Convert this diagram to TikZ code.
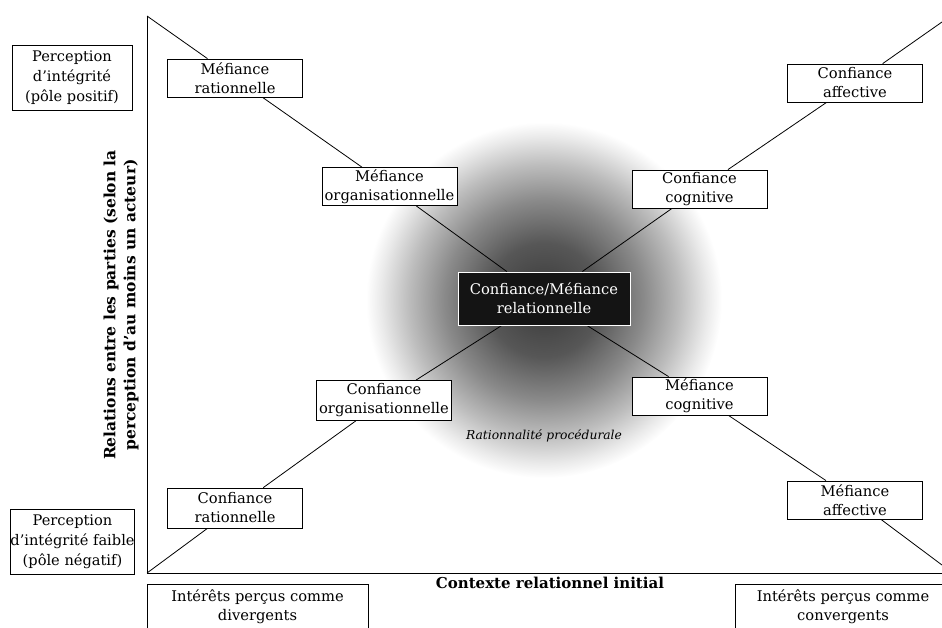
\documentclass[tikz,border=0pt]{standalone}
\usepackage{fontspec}
\setmainfont{DejaVu Serif}
\usetikzlibrary{backgrounds}
\pgfdeclareradialshading{glow}{\pgfpointorigin}{color(0bp)=(black!78); color(8bp)=(black!66); color(14bp)=(black!46); color(19bp)=(black!26); color(23bp)=(black!8); color(25bp)=(white); color(50bp)=(white)}
\begin{document}
\begin{tikzpicture}[x=1pt,y=-1pt,
  txt/.style={font=\fontsize{14.7}{19}\selectfont},
  box/.style={txt, draw=black, fill=white, line width=0.8pt, minimum width=135pt, minimum height=38pt, inner sep=0pt, align=center},
  polebox/.style={box, minimum width=120pt, minimum height=65pt, font=\fontsize{14.6}{20}\selectfont},
  ctrbox/.style={box, fill=black!92, draw=white, line width=1pt, text=white, minimum width=172pt, minimum height=53pt},
  contextbox/.style={box, anchor=north, inner ysep=5pt},
  axis/.style={draw=black, line width=1pt},
  diag/.style={draw=black, line width=0.8pt},
  axislabel/.style={font=\bfseries\fontsize{15.5}{20}\selectfont, align=center}
]
\useasboundingbox (0,0) rectangle (942,627);
\clip (0,0) rectangle (942,627);

\coordinate (tl) at (147,16);
\coordinate (bl) at (147,573);
\coordinate (hr) at (942,573);
\coordinate (br) at (942,565);
\coordinate (tr) at (942,22);

% pole boxes
\node[polebox] (pos) at (72,77.5) {Perception\\d’intégrité\\(pôle positif)};
\node[polebox] (neg) at (72.5,542) {Perception\\d’intégrité faible\\(pôle négatif)};

% axis label
\node[axislabel, rotate=90] (ylab) at (121,305) {Relations entre les parties (selon la\\perception d’au moins un acteur)};

% concept boxes
\node[box] (mr) at (235,78) {Méfiance\\rationnelle};
\node[box] (mo) at (389.5,186.5) {Méfiance\\organisationnelle};
\node[ctrbox] (ctr) at (544,298.5) {Confiance/Méfiance\\relationnelle};
\node[box] (mc) at (699.5,396) {Méfiance\\cognitive};
\node[box] (ma) at (855,500) {Méfiance\\affective};
\node[box] (ca) at (855,83) {Confiance\\affective};
\node[box] (cc) at (699.5,189) {Confiance\\cognitive};
\node[box, minimum height=40pt] (co) at (384,400.5) {Confiance\\organisationnelle};
\node[box, minimum height=40pt] (cr) at (235,508) {Confiance\\rationnelle};

\node[font=\itshape\fontsize{12.3}{14}\selectfont] (proc) at (544,436) {Rationnalité procédurale};
\node[font=\bfseries\fontsize{15}{16}\selectfont] (ctx) at (550,583) {Contexte relationnel initial};

\node[contextbox, minimum width=221pt] (div) at (257.5,584) {Intérêts perçus comme\\divergents};
\node[contextbox, minimum width=216pt] (conv) at (843,584) {Intérêts perçus comme\\convergents};

\begin{pgfonlayer}{background}
  \shade[shading=glow] (544,300) circle (178pt);
  \draw[diag] (tl) -- (mr);
  \draw[diag] (mr) -- (mo);
  \draw[diag] (mo) -- (ctr);
  \draw[diag] (ctr) -- (mc);
  \draw[diag] (mc) -- (ma);
  \draw[diag] (ma) -- (br);
  \draw[diag] (bl) -- (cr);
  \draw[diag] (cr) -- (co);
  \draw[diag] (co) -- (ctr);
  \draw[diag] (ctr) -- (cc);
  \draw[diag] (cc) -- (ca);
  \draw[diag] (ca) -- (tr);
\end{pgfonlayer}
\draw[axis] (tl) -- (bl) -- (hr);
\end{tikzpicture}
\end{document}
